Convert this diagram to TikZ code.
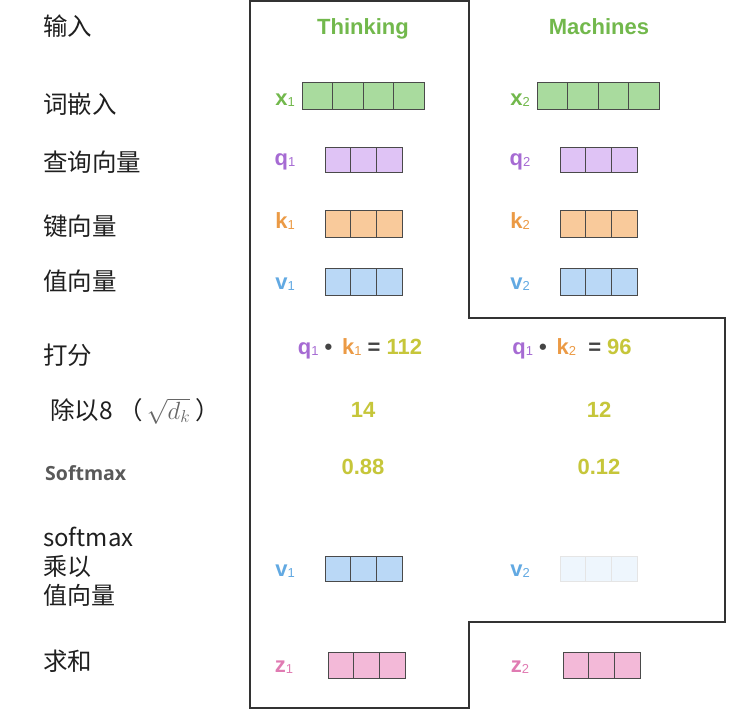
\documentclass[tikz,border=0pt]{standalone}
\usepackage{fontspec}
\setmainfont{Liberation Sans}
\newfontfamily\cjk{Noto Sans CJK SC}
\newfontfamily\opensans{Open Sans}
\usetikzlibrary{calc}
\definecolor{wordgreen}{HTML}{72B84C}
\definecolor{xfill}{HTML}{A9DB9E}
\definecolor{qtext}{HTML}{A66BD3}
\definecolor{qfill}{HTML}{DFC3F5}
\definecolor{ktext}{HTML}{EB9A45}
\definecolor{kfill}{HTML}{F9CA9B}
\definecolor{vtext}{HTML}{62A9E2}
\definecolor{vfill}{HTML}{BAD8F6}
\definecolor{vfaint}{HTML}{EEF6FD}
\definecolor{ztext}{HTML}{E07BB2}
\definecolor{zfill}{HTML}{F3B9D8}
\definecolor{score}{HTML}{C6C63A}
\definecolor{cellline}{HTML}{4A4A4A}
\definecolor{opgray}{HTML}{444444}
\def\idx#1{\raisebox{-1.5pt}{\fontsize{13}{13}\selectfont\mdseries #1}}
\def\cellrow[#1](#2,#3)(#4:#5:#6){\foreach \i in {1,...,#4}{\draw[#1] ({#2+(\i-1)*#5},#3) rectangle ++(#5,#6);}}

\begin{document}
\begin{tikzpicture}[x=1pt, y=-1pt,
	rowname/.style={anchor=west, inner sep=0pt, font=\cjk\fontsize{24.5}{24.5}\selectfont, text=black!88},
	vecname/.style={anchor=base, inner sep=0pt, font=\bfseries\fontsize{22}{22}\selectfont},
	word/.style={anchor=base, inner sep=0pt, text=wordgreen, font=\bfseries\fontsize{22}{22}\selectfont},
	num/.style={anchor=base, inner sep=0pt, text=score, font=\bfseries\fontsize{22}{22}\selectfont}]
	%%%%% START %%%%%
	
	\useasboundingbox (0,0) rectangle (746,723);
	
	\draw[line width=1.3pt, color=black!80] (250,1) -- (469,1) -- (469,318) -- (725,318) -- (725,622) -- (469,622) -- (469,708) -- (250,708) -- cycle;
	
	\node[rowname] (lin) at (43,26) {输入};
	\node[rowname] (lemb) at (43,104) {词嵌入};
	\node[rowname] (lq) at (43,162) {查询向量};
	\node[rowname] (lk) at (43,226) {键向量};
	\node[rowname] (lv) at (43,281) {值向量};
	\node[rowname] (lscore) at (43,355) {打分};
	\node[rowname] (ldiv) at (50,411) {除以8 （\,{\color{black!60}\fontsize{26}{26}\selectfont$\sqrt{d_k}$}\ ）};
	\node[rowname, font=\opensans\bfseries\fontsize{19.5}{19.5}\selectfont, text=black!65] (lsoft) at (45,473) {Softmax};
	\node[rowname, align=left, font=\cjk\fontsize{24}{29}\selectfont] (lweigh) at (43,567) {softmax\\乘以\\值向量};
	\node[rowname] (lsum) at (43,661) {求和};
	
	\node[word] (think) at (363,34) {Thinking};
	\node[word] (mach) at (599,34) {Machines};
	
	\node[vecname, text=wordgreen] (x1) at (285,105) {x\idx1};
	\node[vecname, text=wordgreen] (x2) at (520,105) {x\idx2};
	\cellrow[fill=xfill, draw=cellline, line width=0.9pt](302,82)(4:30.5:27)
	\cellrow[fill=xfill, draw=cellline, line width=0.9pt](537,82)(4:30.5:27)
	
	\node[vecname, text=qtext] (q1) at (285,165) {q\idx1};
	\node[vecname, text=qtext] (q2) at (520,165) {q\idx2};
	\cellrow[fill=qfill, draw=cellline, line width=0.9pt](325,147)(3:25.7:25)
	\cellrow[fill=qfill, draw=cellline, line width=0.9pt](560,147)(3:25.7:25)
	
	\node[vecname, text=ktext] (k1) at (285,228) {k\idx1};
	\node[vecname, text=ktext] (k2) at (520,228) {k\idx2};
	\cellrow[fill=kfill, draw=cellline, line width=0.9pt](325,210)(3:25.7:27)
	\cellrow[fill=kfill, draw=cellline, line width=0.9pt](560,210)(3:25.7:27)
	
	\node[vecname, text=vtext] (v1) at (285,289) {v\idx1};
	\node[vecname, text=vtext] (v2) at (520,289) {v\idx2};
	\cellrow[fill=vfill, draw=cellline, line width=0.9pt](325,268)(3:25.7:27)
	\cellrow[fill=vfill, draw=cellline, line width=0.9pt](560,268)(3:25.7:27)
	
	\node[vecname] (s1) at (360,354) {{\color{qtext}q\idx1}\ {\color{opgray}\textbullet}\ \,{\color{ktext}k\idx1} {\color{opgray}=} {\color{score}112}};
	\node[vecname] (s2) at (572,354) {{\color{qtext}q\idx1}\ {\color{opgray}\textbullet}\ \,{\color{ktext}k\idx2}\ \ {\color{opgray}=} {\color{score}96}};
	
	\node[num] (d1) at (363,417) {14};
	\node[num] (d2) at (599,417) {12};
	\node[num] (p1) at (363,474) {0.88};
	\node[num] (p2) at (599,474) {0.12};
	
	\node[vecname, text=vtext] (w1) at (285,576) {v\idx1};
	\node[vecname, text=vtext] (w2) at (520,576) {v\idx2};
	\cellrow[fill=vfill, draw=cellline, line width=0.9pt](325,556)(3:25.7:25)
	\cellrow[fill=vfaint, draw=black!10, line width=0.7pt](560,556)(3:25.7:25)
	
	\node[vecname, text=ztext] (z1) at (284,672) {z\idx1};
	\node[vecname, text=ztext] (z2) at (520,672) {z\idx2};
	\cellrow[fill=zfill, draw=cellline, line width=0.9pt](328,652)(3:25.7:26)
	\cellrow[fill=zfill, draw=cellline, line width=0.9pt](563,652)(3:25.7:26)
	
	%%%%% END %%%%%
\end{tikzpicture}
\end{document}
